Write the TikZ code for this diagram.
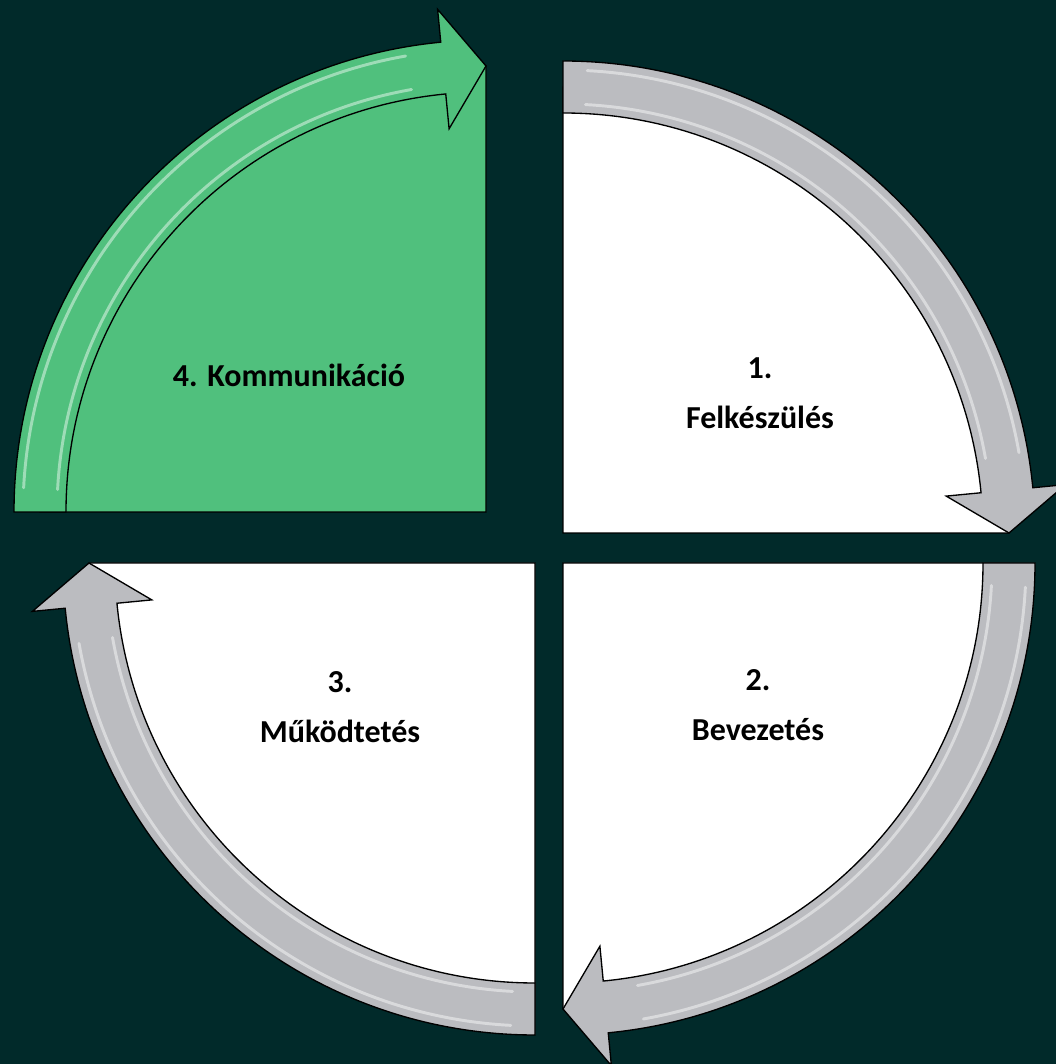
\documentclass[tikz,border=0pt]{standalone}
\usepackage{fontspec}
\setmainfont{Carlito}
\definecolor{bg}{RGB}{1,42,42}
\definecolor{grayband}{RGB}{187,188,192}
\definecolor{greenfill}{RGB}{80,192,125}
\tikzset{
  sector/.style={draw=black,line width=0.8pt},
  band/.style={draw=black,line width=1pt,line join=miter},
  shine/.style={white,opacity=0.45,line width=2.2pt,line cap=round},
  lbl/.style={font=\bfseries\fontsize{24}{37.5}\selectfont,align=center}
}

\begin{document}
\begin{tikzpicture}[x=0.75pt,y=0.75pt]
\useasboundingbox (0,0) rectangle (1056,1064);
\fill[bg] (0,0) rectangle (1056,1064);
% 1. top right
\begin{scope}[shift={(563,531)}]
\path[sector,fill=white] (0,0) -- (90:446) arc[start angle=90,end angle=0,radius=446] -- cycle;
\path[band,fill=grayband] (90:472) arc[start angle=90,end angle=5.5,radius=472] -- (5.5:505) -- (0:446) -- (5.5:385) -- (5.5:420) arc[start angle=5.5,end angle=90,radius=420] -- cycle;
\draw[shine] (87:429) arc[start angle=87,end angle=10,radius=429];
\draw[shine] (87:463) arc[start angle=87,end angle=10,radius=463];
\end{scope}
% 2. bottom right
\begin{scope}[shift={(563,501)}]
\path[sector,fill=white] (0,0) -- (0:446) arc[start angle=0,end angle=-90,radius=446] -- cycle;
\path[band,fill=grayband] (0:472) arc[start angle=0,end angle=-84.5,radius=472] -- (-84.5:505) -- (-90:446) -- (-84.5:385) -- (-84.5:420) arc[start angle=-84.5,end angle=0,radius=420] -- cycle;
\draw[shine] (-3:429) arc[start angle=-3,end angle=-80,radius=429];
\draw[shine] (-3:463) arc[start angle=-3,end angle=-80,radius=463];
\end{scope}
% 3. bottom left
\begin{scope}[shift={(535,501)}]
\path[sector,fill=white] (0,0) -- (270:446) arc[start angle=270,end angle=180,radius=446] -- cycle;
\path[band,fill=grayband] (270:472) arc[start angle=270,end angle=185.5,radius=472] -- (185.5:505) -- (180:446) -- (185.5:385) -- (185.5:420) arc[start angle=185.5,end angle=270,radius=420] -- cycle;
\draw[shine] (267:429) arc[start angle=267,end angle=190,radius=429];
\draw[shine] (267:463) arc[start angle=267,end angle=190,radius=463];
\end{scope}
% 4. top left, moved out
\begin{scope}[shift={(486,552)}]
\path[sector,fill=greenfill] (0,0) -- (180:446) arc[start angle=180,end angle=90,radius=446] -- cycle;
\path[band,fill=greenfill] (180:472) arc[start angle=180,end angle=95.5,radius=472] -- (95.5:505) -- (90:446) -- (95.5:385) -- (95.5:420) arc[start angle=95.5,end angle=180,radius=420] -- cycle;
\draw[shine] (177:429) arc[start angle=177,end angle=100,radius=429];
\draw[shine] (177:463) arc[start angle=177,end angle=100,radius=463];
\end{scope}
\node[lbl] (t4) at (289,689) {4. Kommunikáció};
\node[lbl] (t1) at (760,671) {1.\\Felkészülés};
\node[lbl] (t2) at (758,359) {2.\\Bevezetés};
\node[lbl] (t3) at (340,357) {3.\\Működtetés};
\end{tikzpicture}
\end{document}
